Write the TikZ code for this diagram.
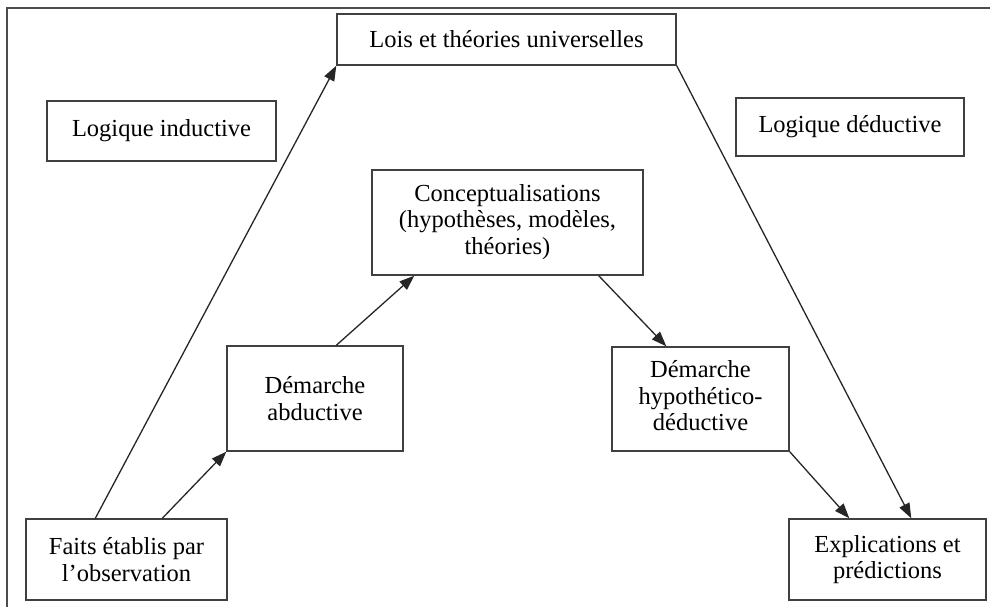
\documentclass[tikz,border=0pt]{standalone}
\usepackage{fontspec}
\setmainfont{Liberation Serif}
\usepackage{tikz}
\usetikzlibrary{arrows.meta,positioning,calc}
\tikzset{
  logbox/.style={draw=black!75, line width=1.4pt, rectangle, align=center, inner sep=2pt, font=\fontsize{24.5}{26.5}\selectfont},
  arc/.style={-{Triangle[length=15pt, width=11pt]}, line width=1.3pt, draw=black!85},
  framebox/.style={draw=black!70, line width=2pt}
}
\begin{document}
\begin{tikzpicture}[x=1pt, y=-1pt]
  \useasboundingbox (0,0) rectangle (990,607);
  \draw[framebox] (7,620) |- (1000,8);

  \node[logbox, minimum width=339pt, minimum height=51pt] (lois) at (506.5,39.5) {Lois et théories universelles};
  \node[logbox, minimum width=229pt, minimum height=60pt] (induct) at (161.5,131) {Logique inductive};
  \node[logbox, minimum width=228pt, minimum height=58pt] (deduct) at (850,127) {Logique déductive};

  \node[logbox, minimum width=271pt, minimum height=105pt] (concept) at (507.5,222.5) {\raisebox{-4pt}{\begin{tabular}{@{}c@{}}Conceptualisations\\(hypothèses, modèles,\\théories)\end{tabular}}};
  \node[logbox, minimum width=176pt, minimum height=105pt] (abduct) at (315,398.5) {Démarche\\abductive};
  \node[logbox, minimum width=177pt, minimum height=104pt] (hypo) at (700.5,399) {\raisebox{-4pt}{\begin{tabular}{@{}c@{}}Démarche\\hypothético-\\déductive\end{tabular}}};

  \node[logbox, minimum width=201pt, minimum height=81pt] (faits) at (126.5,559.5) {Faits établis par\\l’observation};
  \node[logbox, minimum width=197pt, minimum height=81pt] (explic) at (887.5,559.5) {Explications et\\prédictions};

  \draw[arc] ([xshift=70pt]faits.north west) -- (lois.south west);
  \draw[arc] ([xshift=137pt]faits.north west) -- (abduct.south west);
  \draw[arc] ([xshift=110pt]abduct.north west) -- ([xshift=43pt]concept.south west);
  \draw[arc] ([xshift=-45pt]concept.south east) -- ([xshift=55pt]hypo.north west);
  \draw[arc] (hypo.south east) -- ([xshift=61pt]explic.north west);
  \draw[arc] (lois.south east) -- ([xshift=123pt]explic.north west);
\end{tikzpicture}
\end{document}
